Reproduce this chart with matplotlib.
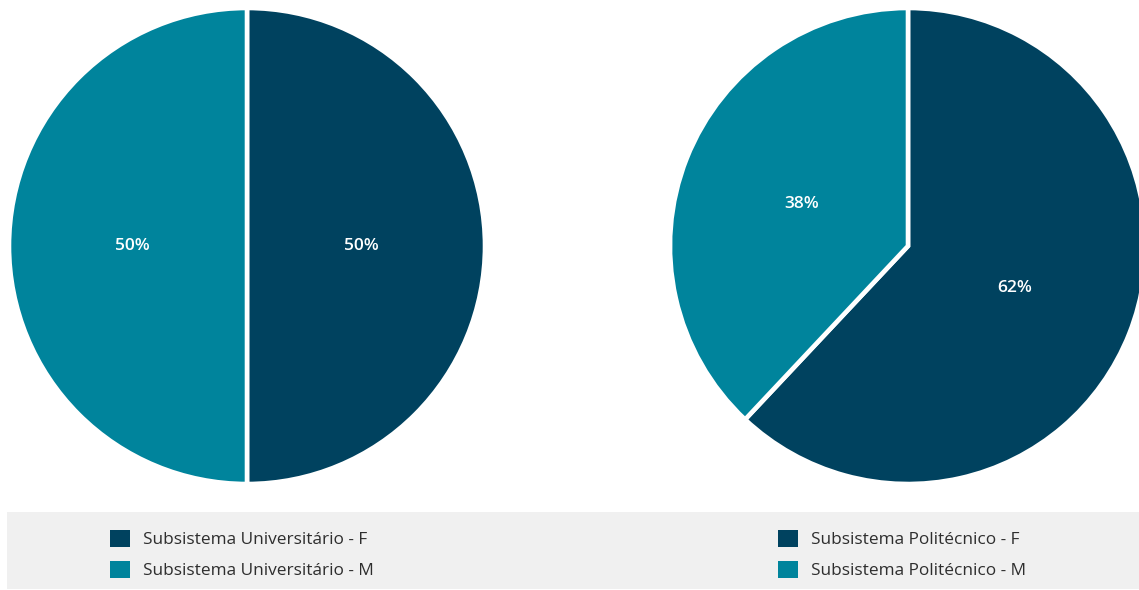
import matplotlib.pyplot as plt
from matplotlib.patches import Patch, Rectangle

plt.rcParams['font.family'] = ['Open Sans', 'DejaVu Sans']

dark = '#00425f'
teal = '#00849c'

# share of students by sex, per subsystem
uni_labels = ['Subsistema Universitário - F', 'Subsistema Universitário - M']
uni_values = [50, 50]
poli_labels = ['Subsistema Politécnico - F', 'Subsistema Politécnico - M']
poli_values = [62, 38]

W, H = 1139, 590
fig = plt.figure(figsize=(W / 100, H / 100), dpi=100)

# grey band behind the legends
fig.patches.append(Rectangle((7 / W, 1 / H), (W - 7) / W, 77 / H,
                             transform=fig.transFigure, facecolor='#f0f0f0',
                             edgecolor='none', zorder=0))


def draw_pie(left, values, labels, legend_x):
    ax = fig.add_axes([left / W, 106 / H, 476 / W, 476 / H])
    ax.pie(values, colors=[dark, teal], startangle=90, counterclock=False,
           autopct='%d%%', pctdistance=0.48, radius=1,
           wedgeprops=dict(edgecolor='white', linewidth=3.3),
           textprops=dict(color='white', fontsize=12.5, fontweight='semibold'))
    ax.set_xlim(-1, 1)
    ax.set_ylim(-1, 1)
    ax.set_aspect('equal')
    ax.axis('off')
    handles = [Patch(facecolor=dark), Patch(facecolor=teal)]
    fig.legend(handles, labels, loc='upper left',
               bbox_to_anchor=(legend_x / W, (H - 530) / H),
               frameon=False, fontsize=12.4, borderpad=0, borderaxespad=0,
               handlelength=1.17, handleheight=1.17, handletextpad=0.75,
               labelspacing=0.72, labelcolor='#2e2e2e')


draw_pie(9, uni_values, uni_labels, 110)
draw_pie(670, poli_values, poli_labels, 778)

fig.savefig('out.png', dpi=100)
